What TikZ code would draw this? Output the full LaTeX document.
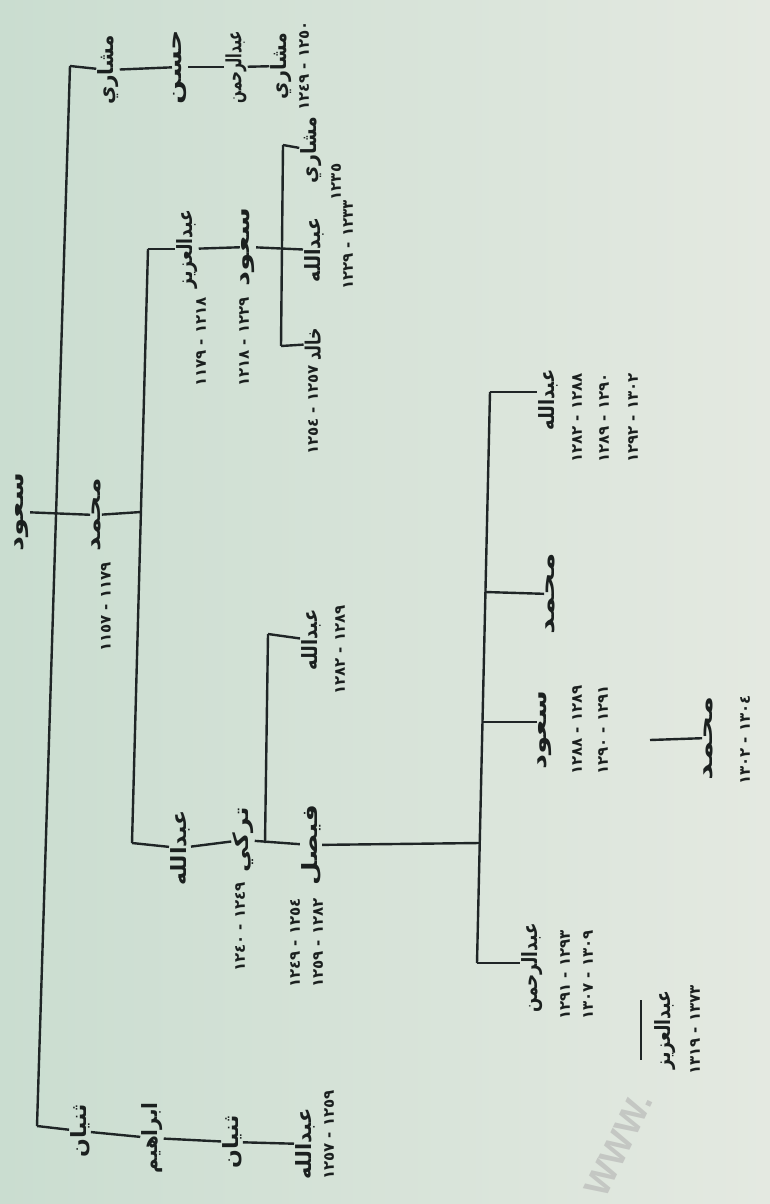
\documentclass[tikz,border=0pt]{standalone}
\usepackage{fontspec}
\newfontfamily\arfont[Script=Arabic]{DejaVu Sans}
\newfontfamily\wmfont{Liberation Sans}
\TeXXeTstate=1
\definecolor{bgl}{HTML}{CADDD0}
\definecolor{bgr}{HTML}{E4E9E1}
\definecolor{linec}{HTML}{1F2526}
\definecolor{inkc}{HTML}{1B201F}
\definecolor{wmc}{HTML}{C4C7C3}
\newcommand\nmf{\arfont\bfseries\fontsize{21}{24}\selectfont}
\newcommand\dtf{\arfont\bfseries\fontsize{15}{17}\selectfont}
\newcommand\RR[1]{\beginR #1\endR}
% name with horizontal stretch factor
\newcommand\NM[2]{\scalebox{#1}[1]{\RR{#2}}}
% date: start, end (visual start on the left of the line)
\newcommand\DT[2]{\RR{#2 - #1}}
\begin{document}
\begin{tikzpicture}[x=1pt,y=-1pt,
  ln/.style={line width=2.4pt,draw=linec},
  nm/.style={rotate=90,inner sep=1pt,font=\nmf,text=inkc},
  dt/.style={rotate=90,inner sep=1pt,font=\dtf,text=inkc}]
\shade[left color=bgl,right color=bgr] (0,0) rectangle (770,1204);
\useasboundingbox (0,0) rectangle (770,1204);

% watermark
\node[rotate=64,anchor=south west,inner sep=0pt,text=wmc,font=\wmfont\bfseries\fontsize{36}{38}\selectfont] (wm) at (606,1200) {WWW.};

% root and its spine
\node[nm] (root) at (22,512) {\NM{1.4}{سعود}};
\coordinate (s0t) at (70,66);
\coordinate (s0b) at (37,1126);
\draw[ln] (s0t) -- (s0b);

% top chain
\node[nm] (a1) at (108,70) {\NM{0.95}{مشاري}};
\node[nm] (a2) at (180,67) {\NM{1.35}{حسن}};
\node[nm] (a3) at (236,67) {\NM{0.65}{عبدالرحمن}};
\node[nm] (a4) at (281,66) {\NM{0.9}{مشاري}};
\node[dt] (a4d) at (304,66) {\DT{١٢٤٩}{١٢٥٠}};
\draw[ln] (s0t) -- (a1);
\draw[ln] (a1) -- (a2);
\draw[ln] (a2) -- (a3);
\draw[ln] (a3) -- (a4);

% bottom chain
\node[nm] (b1) at (80,1131) {\NM{1.05}{ثنيان}};
\node[nm] (b2) at (152,1138) {\NM{0.95}{ابراهيم}};
\node[nm] (b3) at (232,1142) {\NM{1.05}{ثنيان}};
\node[nm] (b4) at (305,1144) {\NM{1.0}{عبدالله}};
\node[dt] (b4d) at (329,1135) {\DT{١٢٥٧}{١٢٥٩}};
\draw[ln] (s0b) -- (b1);
\draw[ln] (b1) -- (b2);
\draw[ln] (b2) -- (b3);
\draw[ln] (b3) -- (b4);

% Muhammad
\node[nm] (muh) at (96,515) {\NM{1.35}{محمد}};
\node[dt] (muhd) at (106,607) {\DT{١١٥٧}{١١٧٩}};
\draw[ln] (root) -- (muh);
\coordinate (s1t) at (148,249);
\coordinate (s1b) at (132,843);
\coordinate (s1m) at (141,512);
\draw[ln] (muh) -- (s1m);
\draw[ln] (s1t) -- (s1b);

% Abdulaziz branch
\node[nm] (az) at (187,249) {\NM{0.82}{عبدالعزيز}};
\node[dt] (azd) at (201,342) {\DT{١١٧٩}{١٢١٨}};
\node[nm] (sd) at (248,247) {\NM{1.4}{سعود}};
\node[dt] (sdd) at (244,342) {\DT{١٢١٨}{١٢٢٩}};
\coordinate (s2t) at (283,145);
\coordinate (s2b) at (281,346);
\node[nm] (ab) at (314,250) {\NM{0.9}{عبدالله}};
\node[dt] (abd) at (348,245) {\DT{١٢٢٩}{١٢٣٣}};
\node[nm] (ms) at (311,150) {\NM{0.9}{مشاري}};
\node[dt] (msd) at (336,182) {\RR{١٢٣٥}};
\node[nm] (kh) at (313,344) {\NM{0.75}{خالد}};
\node[dt] (khd) at (313,410) {\DT{١٢٥٤}{١٢٥٧}};
\draw[ln] (s1t) -- (az);
\draw[ln] (az) -- (sd);
\draw[ln] (sd) -- (ab);
\draw[ln] (s2t) -- (s2b);
\draw[ln] (s2t) -- (ms);
\draw[ln] (s2b) -- (kh);

% Abdullah / Turki branch
\node[nm] (al) at (180,848) {\NM{1.05}{عبدالله}};
\node[nm] (tk) at (243,840) {\NM{1.2}{تركي}};
\node[dt] (tkd) at (240,927) {\DT{١٢٤٠}{١٢٤٩}};
\coordinate (s3t) at (268,634);
\coordinate (s3b) at (265,843);
\node[nm] (at) at (311,640) {\NM{0.85}{عبدالله}};
\node[dt] (atd) at (340,650) {\DT{١٢٨٢}{١٢٨٩}};
\node[nm] (fs) at (311,845) {\NM{1.3}{فيصل}};
\node[dt] (fsd1) at (295,943) {\DT{١٢٤٩}{١٢٥٤}};
\node[dt] (fsd2) at (318,943) {\DT{١٢٥٩}{١٢٨٢}};
\draw[ln] (s1b) -- (al);
\draw[ln] (al) -- (tk);
\draw[ln] (tk) -- (fs);
\draw[ln] (s3t) -- (s3b);
\draw[ln] (s3t) -- (at);

% Faisal's sons
\coordinate (s4t) at (490,392);
\coordinate (s4b) at (477,963);
\coordinate (s4f) at (479.7,843);
\coordinate (s4m) at (485.4,592);
\coordinate (s4s) at (482.5,722);
\draw[ln] (fs) -- (s4f);
\draw[ln] (s4t) -- (s4b);
\node[nm] (fa) at (548,400) {\NM{0.85}{عبدالله}};
\node[dt] (fa1) at (577,418) {\DT{١٢٨٢}{١٢٨٨}};
\node[dt] (fa2) at (604,418) {\DT{١٢٨٩}{١٢٩٠}};
\node[dt] (fa3) at (633,418) {\DT{١٢٩٢}{١٣٠٢}};
\node[nm] (fm) at (550,594) {\NM{1.5}{محمد}};
\node[nm] (fsn) at (545,730) {\NM{1.4}{سعود}};
\node[dt] (fsn1) at (577,730) {\DT{١٢٨٨}{١٢٨٩}};
\node[dt] (fsn2) at (603,730) {\DT{١٢٩٠}{١٢٩١}};
\node[nm] (fr) at (532,968) {\NM{0.8}{عبدالرحمن}};
\node[dt] (fr1) at (565,975) {\DT{١٢٩١}{١٢٩٣}};
\node[dt] (fr2) at (588,975) {\DT{١٣٠٧}{١٣٠٩}};
\draw[ln] (s4t) -- (s4t -| fa.north);
\draw[ln] (s4m) -- (fm);
\draw[ln] (s4s) -- (s4s -| fsn.north);
\draw[ln] (s4b) -- (s4b -| fr.north);

% separate entries
\coordinate (xm) at (650,740);
\node[nm] (x1) at (708,738) {\NM{1.55}{محمد}};
\node[dt] (x1d) at (745,740) {\DT{١٣٠٢}{١٣٠٤}};
\draw[ln] (xm) -- (x1);
\coordinate (x2a) at (641,1000);
\coordinate (x2b) at (641,1060);
\node[nm] (x2) at (665,1030) {\NM{0.82}{عبدالعزيز}};
\node[dt] (x2d) at (695,1030) {\DT{١٣١٩}{١٣٧٣}};
\draw[ln] (x2a) -- (x2b);
\end{tikzpicture}
\end{document}
